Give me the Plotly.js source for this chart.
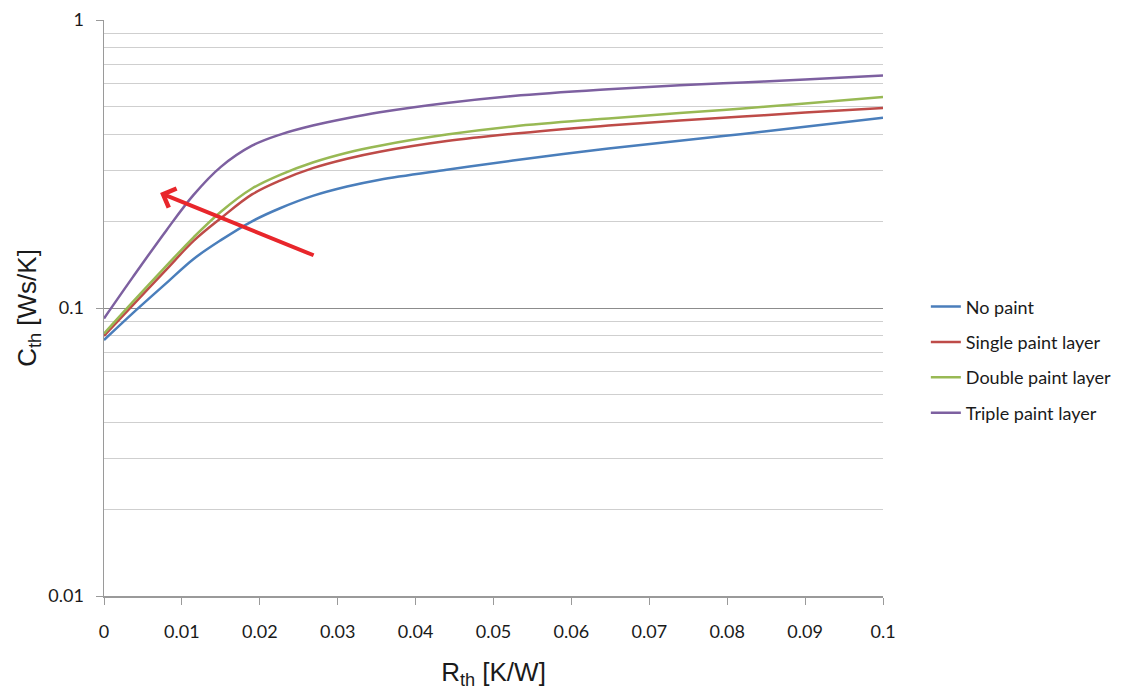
<!DOCTYPE html>
<html>
<head>
<meta charset="utf-8">
<script src="https://cdn.plot.ly/plotly-3.0.1.min.js"></script>
<style>html,body{margin:0;padding:0;background:#fff;}#chart{width:1133px;height:690px;}</style>
</head>
<body>
<div id="chart"></div>
<script>
// Thermal resistance R_th [K/W]
var rth = [0, 0.0037, 0.008, 0.0115, 0.015, 0.019, 0.0226, 0.0268, 0.0312, 0.0354, 0.044, 0.0525, 0.0637, 0.0739, 0.082, 0.09, 0.1];
// Thermal capacitance C_th [Ws/K]
var noPaint     = [0.0774, 0.096, 0.122, 0.148, 0.172, 0.200, 0.222, 0.245, 0.264, 0.279, 0.302, 0.325, 0.355, 0.381, 0.402, 0.426, 0.458];
var singleLayer = [0.0800, 0.1024, 0.136, 0.171, 0.205, 0.248, 0.277, 0.306, 0.330, 0.349, 0.380, 0.403, 0.428, 0.448, 0.462, 0.477, 0.495];
var doubleLayer = [0.0815, 0.105, 0.140, 0.176, 0.216, 0.260, 0.290, 0.320, 0.346, 0.366, 0.400, 0.427, 0.453, 0.475, 0.493, 0.513, 0.540];
var tripleLayer = [0.0920, 0.128, 0.186, 0.247, 0.309, 0.366, 0.400, 0.430, 0.456, 0.478, 0.515, 0.545, 0.573, 0.593, 0.607, 0.622, 0.642];

var seriesNames = ["No paint", "Single paint layer", "Double paint layer", "Triple paint layer"];
var seriesColors = ["#4a7ebb", "#be4b48", "#98b954", "#7d60a0"];
var seriesValues = [noPaint, singleLayer, doubleLayer, tripleLayer];

var xTickVals = [0, 0.01, 0.02, 0.03, 0.04, 0.05, 0.06, 0.07, 0.08, 0.09, 0.1];
var xTickText = ["0", "0.01", "0.02", "0.03", "0.04", "0.05", "0.06", "0.07", "0.08", "0.09", "0.1"];
var yTickVals = [0.01, 0.1, 1];
var yTickText = ["0.01", "0.1", "1"];

// Trend arrow (tail -> head) in data units
var arrowTail = {x: 0.0271, y: 0.1517};
var arrowHead = {x: 0.0072, y: 0.2508};

var traces = seriesValues.map(function (vals, i) {
  return {
    x: rth, y: vals, type: "scatter", mode: "lines",
    name: seriesNames[i], legendgroup: "g" + i,
    line: {color: seriesColors[i], width: 2.5, shape: "spline", smoothing: 1}
  };
});

var tickFont = {family: "Lato, 'Open Sans', sans-serif", size: 18, color: "#1a1a1a"};

var layout = {
  width: 1133, height: 690,
  margin: {l: 104, r: 250, t: 20, b: 94},
  paper_bgcolor: "#ffffff", plot_bgcolor: "#ffffff",
  showlegend: true,
  legend: {
    x: 1.055, xanchor: "left", y: 0.41, yanchor: "middle",
    font: {family: "Lato, 'Open Sans', sans-serif", size: 18, color: "#1a1a1a"},
    tracegroupgap: 9, traceorder: "grouped", itemwidth: 30, bgcolor: "rgba(0,0,0,0)"
  },
  xaxis: {
    range: [0, 0.1], tickvals: xTickVals, ticktext: xTickText,
    showgrid: false, zeroline: false,
    showline: true, linecolor: "#9a9a9a", linewidth: 1.5,
    ticks: "outside", ticklen: 7, tickcolor: "#9a9a9a", tickwidth: 1,
    tickfont: tickFont, ticklabelstandoff: 12,
    title: {text: "R<sub>th</sub> [K/W]", font: {family: "'Liberation Sans', Arial, sans-serif", size: 26, color: "#1a1a1a"}, standoff: 22}
  },
  yaxis: {
    type: "log", range: [-2, 0], tickvals: yTickVals, ticktext: yTickText,
    showgrid: true, gridcolor: "#8c8c8c", gridwidth: 1,
    minor: {dtick: "D1", showgrid: true, gridcolor: "#cfcfcf", gridwidth: 1, ticks: ""},
    zeroline: false,
    showline: true, linecolor: "#9a9a9a", linewidth: 1.5,
    ticks: "outside", ticklen: 7, tickcolor: "#9a9a9a",
    tickfont: tickFont, ticklabelstandoff: 8,
    title: {text: "C<sub>th</sub> [Ws/K]", font: {family: "'Liberation Sans', Arial, sans-serif", size: 26, color: "#1a1a1a"}, standoff: 4}
  },
  annotations: [{
    xref: "x", yref: "y", axref: "x", ayref: "y",
    x: arrowHead.x, y: Math.log10(arrowHead.y),
    ax: arrowTail.x, ay: Math.log10(arrowTail.y),
    text: "", showarrow: true, arrowhead: 4, arrowsize: 1, arrowwidth: 4, arrowcolor: "#e8262b"
  }]
};

Plotly.newPlot("chart", traces, layout, {displayModeBar: false, staticPlot: true});
</script>
</body>
</html>
